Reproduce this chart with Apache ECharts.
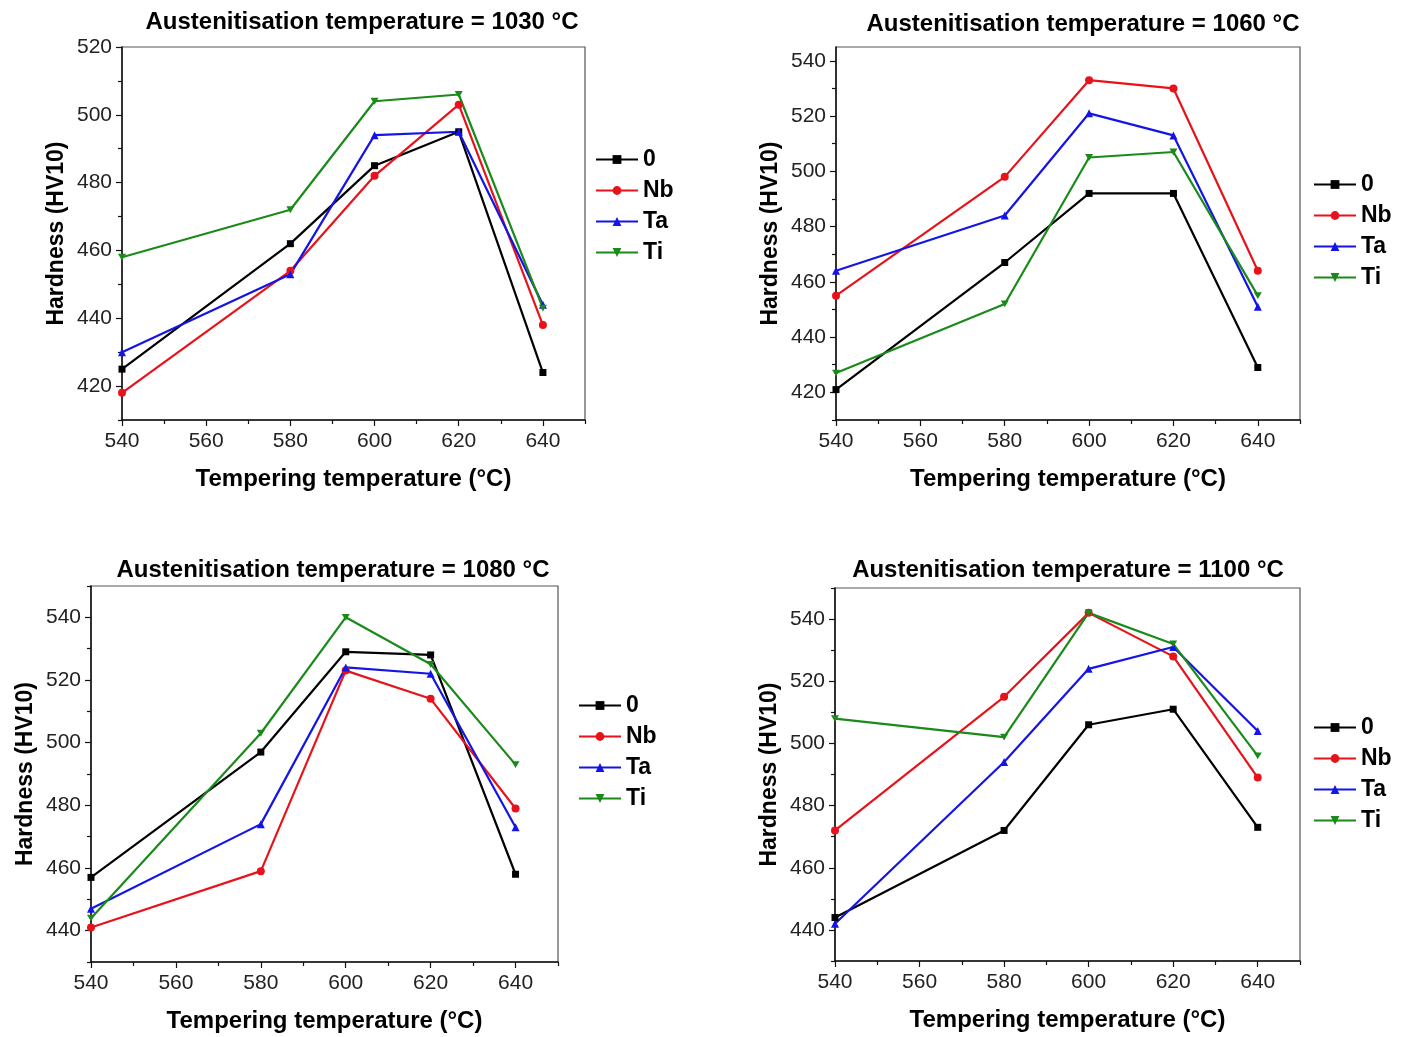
<!DOCTYPE html>
<html>
<head>
<meta charset="utf-8">
<script src="https://cdn.jsdelivr.net/npm/echarts@6/dist/echarts.min.js"></script>
<style>
    html, body { margin: 0; padding: 0; background: #fff; }
    #main { width: 1408px; height: 1037px; }
</style>
</head>
<body>
<div id="main"></div>
<script>
// tempering temperatures (x) and alloy names
var temps = [540, 580, 600, 620, 640];
var alloys = ['0', 'Nb', 'Ta', 'Ti'];
var panelTitles = [
    'Austenitisation temperature = 1030 °C',
    'Austenitisation temperature = 1060 °C',
    'Austenitisation temperature = 1080 °C',
    'Austenitisation temperature = 1100 °C'
];

// hardness HV10, austenitised at 1030 °C
var h1030_0  = [425, 462, 485, 495, 424];
var h1030_Nb = [418, 454, 482, 503, 438];
var h1030_Ta = [430, 453, 494, 495, 444];
var h1030_Ti = [458, 472, 504, 506, 443];
// 1060 °C
var h1060_0  = [421, 467, 492, 492, 429];
var h1060_Nb = [455, 498, 533, 530, 464];
var h1060_Ta = [464, 484, 521, 513, 451];
var h1060_Ti = [427, 452, 505, 507, 455];
// 1080 °C
var h1080_0  = [457, 497, 529, 528, 458];
var h1080_Nb = [441, 459, 523, 514, 479];
var h1080_Ta = [447, 474, 524, 522, 473];
var h1080_Ti = [444, 503, 540, 525, 493];
// 1100 °C
var h1100_0  = [444, 472, 506, 511, 473];
var h1100_Nb = [472, 515, 542, 528, 489];
var h1100_Ta = [442, 494, 524, 531, 504];
var h1100_Ti = [508, 502, 542, 532, 496];

// axis ranges and tick labels
var xMin = 540, xMax = 650;
var xLabels = [540, 560, 580, 600, 620, 640];
var xMinor = [550, 570, 590, 610, 630, 650];
var yMins = [410, 410, 430, 430];
var yMaxs = [520, 545, 550, 550];
var yLabels1030 = [420, 440, 460, 480, 500, 520];
var yLabels1060 = [420, 440, 460, 480, 500, 520, 540];
var yLabels1080 = [440, 460, 480, 500, 520, 540];
var yLabels1100 = [440, 460, 480, 500, 520, 540];
var yMinor1030 = [410, 430, 450, 470, 490, 510];
var yMinor1060 = [410, 430, 450, 470, 490, 510, 530];
var yMinor1080 = [430, 450, 470, 490, 510, 530, 550];
var yMinor1100 = [430, 450, 470, 490, 510, 530, 550];

var panelData = [
    [h1030_0, h1030_Nb, h1030_Ta, h1030_Ti],
    [h1060_0, h1060_Nb, h1060_Ta, h1060_Ti],
    [h1080_0, h1080_Nb, h1080_Ta, h1080_Ti],
    [h1100_0, h1100_Nb, h1100_Ta, h1100_Ti]
];
var yLabelSets = [yLabels1030, yLabels1060, yLabels1080, yLabels1100];
var yMinorSets = [yMinor1030, yMinor1060, yMinor1080, yMinor1100];

var colors = ['#000000', '#e8121b', '#1414e6', '#1a8a1a'];
var symbols = ['rect', 'circle', 'triangle', 'path://M0,0 L20,0 L10,17 Z'];
var symbolSizes = [7, 8, 8, 8];

var FONT = '"Liberation Sans", Arial, sans-serif';

// plot boxes, in pixels
var grids = [
    {left: 122, top: 47, width: 463, height: 373},
    {left: 836, top: 47, width: 464, height: 373},
    {left: 91, top: 586, width: 467, height: 376},
    {left: 835, top: 588, width: 465, height: 373}
];
var titlePos = [[357, 5], [1078, 7], [328, 553], [1063, 553]];
var legendPos = [[590, 143], [1308, 168], [573, 689], [1308, 711]];

function pairs(ys) {
    return temps.map(function (t, k) { return [t, ys[k]]; });
}

var boldText = {fontFamily: FONT, fontSize: 23, fontWeight: 'bold', color: '#000'};
var wideText = {fontFamily: FONT, fontSize: 24, fontWeight: 'bold', color: '#000'};

var option = {
    backgroundColor: '#fff',
    animation: false,
    title: [],
    legend: [],
    grid: [],
    xAxis: [],
    yAxis: [],
    series: []
};

for (var i = 0; i < 4; i++) {
    option.title.push({
        text: panelTitles[i],
        left: titlePos[i][0],
        top: titlePos[i][1],
        textAlign: 'center',
        textStyle: wideText
    });
    option.legend.push({
        data: alloys,
        orient: 'vertical',
        left: legendPos[i][0],
        top: legendPos[i][1],
        itemWidth: 42,
        itemHeight: 11,
        itemGap: 8,
        textStyle: boldText
    });
    var g = grids[i];
    option.grid.push({
        left: g.left, top: g.top, width: g.width, height: g.height,
        show: true, borderColor: '#555', borderWidth: 1.2
    });

    // main x axis (labels and long ticks)
    option.xAxis.push({
        type: 'value', gridIndex: i, min: xMin, max: xMax, position: 'bottom',
        name: 'Tempering temperature (°C)',
        nameLocation: 'middle', nameGap: 47,
        nameTextStyle: wideText,
        axisLine: {show: true, onZero: false, lineStyle: {color: '#111', width: 1.5}},
        axisTick: {show: true, length: 6, customValues: xLabels, lineStyle: {color: '#111', width: 1.2}},
        axisLabel: {customValues: xLabels, margin: 11, fontFamily: FONT, fontSize: 21, color: '#222'},
        splitLine: {show: false}
    });
    // minor x ticks
    option.xAxis.push({
        type: 'value', gridIndex: i, min: xMin, max: xMax, position: 'bottom',
        axisLine: {show: false, onZero: false},
        axisTick: {show: true, length: 4, customValues: xMinor, lineStyle: {color: '#111', width: 1.2}},
        axisLabel: {show: false},
        splitLine: {show: false}
    });

    option.yAxis.push({
        type: 'value', gridIndex: i, min: yMins[i], max: yMaxs[i], position: 'left',
        name: 'Hardness (HV10)',
        nameLocation: 'middle', nameGap: 54,
        nameTextStyle: boldText,
        axisLine: {show: true, onZero: false, lineStyle: {color: '#111', width: 1.5}},
        axisTick: {show: true, length: 6, customValues: yLabelSets[i], lineStyle: {color: '#111', width: 1.2}},
        axisLabel: {customValues: yLabelSets[i], margin: 10, fontFamily: FONT, fontSize: 21, color: '#222'},
        splitLine: {show: false}
    });
    option.yAxis.push({
        type: 'value', gridIndex: i, min: yMins[i], max: yMaxs[i], position: 'left',
        axisLine: {show: false, onZero: false},
        axisTick: {show: true, length: 4, customValues: yMinorSets[i], lineStyle: {color: '#111', width: 1.2}},
        axisLabel: {show: false},
        splitLine: {show: false}
    });

    for (var j = 0; j < 4; j++) {
        option.series.push({
            name: alloys[j],
            type: 'line',
            xAxisIndex: i * 2,
            yAxisIndex: i * 2,
            data: pairs(panelData[i][j]),
            symbol: symbols[j],
            symbolSize: symbolSizes[j],
            symbolKeepAspect: true,
            showAllSymbol: true,
            color: colors[j],
            lineStyle: {color: colors[j], width: 2.2},
            itemStyle: {color: colors[j]}
        });
    }
}

var chart = echarts.init(document.getElementById('main'));
chart.setOption(option);
</script>
</body>
</html>
